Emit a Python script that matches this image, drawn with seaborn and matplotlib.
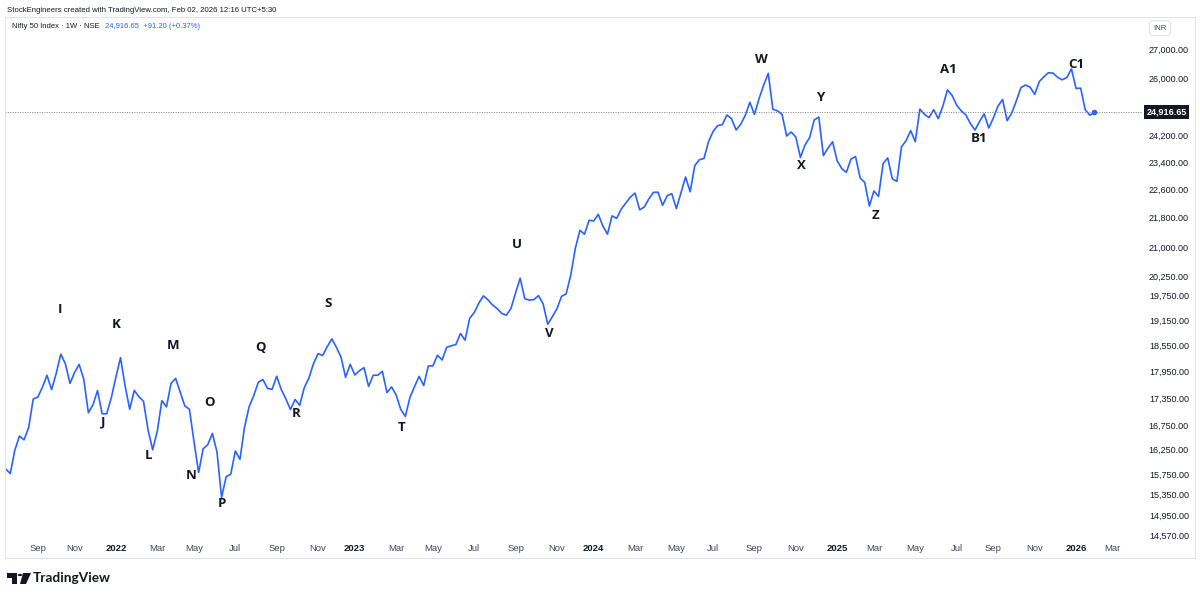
import numpy as np
import pandas as pd
import matplotlib
matplotlib.use("Agg")
import matplotlib.pyplot as plt
import matplotlib.transforms as mtransforms
from matplotlib.patches import Rectangle, Circle, Polygon
from matplotlib.ticker import NullLocator
import seaborn as sns

# weekly closes, bars dated by Monday
first_week = "2021-07-19"
closes_2021 = [15856, 15763, 16238, 16529, 16451, 16705, 17324, 17369, 17585, 17853, 17532, 17895,
               18339, 18115, 17672, 17917, 18102, 17765, 17026, 17197, 17511, 17003, 17004, 17354]
closes_2022 = [17813, 18256, 17617, 17102, 17516, 17375, 17276, 16658, 16245, 16630, 17287, 17153,
               17670, 17784, 17476, 17172, 17103, 16411, 15782, 16266, 16352, 16584, 16202, 15294,
               15699, 15752, 16221, 16049, 16719, 17158, 17398, 17698, 17758, 17559, 17539, 17833,
               17531, 17327, 17094, 17315, 17186, 17576, 17787, 18117, 18350, 18308, 18513, 18697,
               18497, 18269, 17807, 18105]
closes_2023 = [17860, 17957, 18028, 17604, 17854, 17856, 17944, 17466, 17594, 17413, 17100, 16945,
               17360, 17600, 17828, 17624, 18065, 18069, 18315, 18203, 18499, 18534, 18563, 18826,
               18666, 19189, 19332, 19565, 19745, 19646, 19517, 19428, 19310, 19266, 19435, 19820,
               20193, 19674, 19638, 19654, 19751, 19543, 19047, 19231, 19425, 19732, 19795, 20268,
               20970, 21457, 21349, 21731]
closes_2024 = [21711, 21895, 21572, 21353, 21854, 21783, 22041, 22213, 22379, 22494, 22023, 22097,
               22327, 22514, 22519, 22147, 22420, 22476, 22055, 22502, 22957, 22531, 23290, 23466,
               23501, 24011, 24324, 24502, 24531, 24835, 24718, 24368, 24541, 24823, 25236, 24852,
               25357, 25791, 26179, 25015, 24964, 24854, 24181, 24304, 24148, 23533, 23907, 24131,
               24678, 24768, 23588, 23813, 24005]
closes_2025 = [23432, 23203, 23092, 23482, 23560, 22929, 22796, 22125, 22553, 22397, 23350, 23519,
               22904, 22829, 23852, 24039, 24347, 24008, 25020, 24853, 24751, 25003, 24719, 25112,
               25637, 25461, 25150, 24968, 24837, 24565, 24363, 24631, 24870, 24427, 24741, 25114,
               25327, 24655, 24894, 25285, 25710, 25795, 25722, 25492, 25910, 26068, 26203, 26186,
               26047, 25966, 26042, 26328]
closes_2026 = [25683, 25694, 25000, 24825.45, 24916.65]

last_close = 24916.65
change_text = "+91.20 (+0.37%)"

wave_labels = ["I", "J", "K", "L", "M", "N", "O", "P", "Q", "R", "S", "T",
               "U", "V", "W", "X", "Y", "Z", "A1", "B1", "C1"]
wave_dates = ["2021-10-10", "2021-12-14", "2022-01-04", "2022-02-22", "2022-03-31", "2022-04-27",
              "2022-05-25", "2022-06-14", "2022-08-12", "2022-10-04", "2022-11-22", "2023-03-15",
              "2023-09-06", "2023-10-25", "2024-09-13", "2024-11-13", "2024-12-11", "2025-03-05",
              "2025-06-24", "2025-08-10", "2026-01-06"]
wave_prices = [19410, 16820, 19050, 16130, 18540, 15720, 17250, 15170, 18500, 17010, 19560, 16710,
               21080, 18830, 26630, 23280, 25400, 21870, 26320, 24090, 26460]

price_ticks = [27000, 26000, 24200, 23400, 22600, 21800, 21000, 20250, 19750, 19150, 18550,
               17950, 17350, 16750, 16250, 15750, 15350, 14950, 14570]

time_tick_dates = ["2021-09-06", "2021-11-01", "2022-01-03", "2022-03-07", "2022-05-02", "2022-07-04",
                   "2022-09-05", "2022-11-07", "2023-01-02", "2023-03-06", "2023-05-01", "2023-07-03",
                   "2023-09-04", "2023-11-06", "2024-01-01", "2024-03-04", "2024-05-06", "2024-07-01",
                   "2024-09-02", "2024-11-04", "2025-01-06", "2025-03-03", "2025-05-05", "2025-07-07",
                   "2025-09-01", "2025-11-03", "2026-01-05", "2026-03-02"]
time_tick_labels = ["Sep", "Nov", "2022", "Mar", "May", "Jul", "Sep", "Nov", "2023", "Mar", "May", "Jul",
                    "Sep", "Nov", "2024", "Mar", "May", "Jul", "Sep", "Nov", "2025", "Mar", "May", "Jul",
                    "Sep", "Nov", "2026", "Mar"]

closes = closes_2021 + closes_2022 + closes_2023 + closes_2024 + closes_2025 + closes_2026
df = pd.DataFrame({"week": pd.date_range(first_week, periods=len(closes), freq="W-MON"),
                   "close": closes})

sns.set_theme(style="white")
plt.rcParams["font.family"] = ["Liberation Sans", "DejaVu Sans"]

W, H = 1200, 597
fig = plt.figure(figsize=(12, 5.97), dpi=100)
fig.patch.set_facecolor("white")


def fx(x):
    return x / W


def fy(y):
    return 1 - y / H


ax = fig.add_axes([fx(5), fy(538), fx(1143) - fx(5), fy(17) - fy(538)])

line_color = "#2962ff"
sns.lineplot(data=df, x="week", y="close", ax=ax, color=line_color, linewidth=1.2)
ax.scatter(df["week"].iloc[-1], df["close"].iloc[-1], s=9, color=line_color, zorder=5)

ax.set_yscale("log")
ax.set_ylim(14526, 28119)
ax.set_xlim(pd.Timestamp("2021-07-18"), pd.Timestamp("2026-04-17"))

ax.axhline(last_close, color="#787b86", linestyle=(0, (1, 1.5)), linewidth=0.7)

for lab, d, p in zip(wave_labels, wave_dates, wave_prices):
    ax.text(pd.Timestamp(d), p, lab, ha="center", va="center", fontsize=9.5,
            fontweight="bold", color="#131722", family=["Open Sans", "DejaVu Sans"])

# price scale on the right
ax.yaxis.tick_right()
ax.yaxis.set_minor_locator(NullLocator())
ax.set_yticks(price_ticks)
ax.set_yticklabels([f"{t:,.2f}" for t in price_ticks])
ax.tick_params(axis="y", length=0, pad=33, labelsize=6.5, labelcolor="#131722")
for t in ax.get_yticklabels():
    t.set_horizontalalignment("right")

# time scale
ax.set_xticks([pd.Timestamp(d) for d in time_tick_dates])
ax.set_xticklabels(time_tick_labels)
ax.tick_params(axis="x", length=0, pad=4, labelsize=6.8, labelcolor="#434651")
for t in ax.get_xticklabels():
    if t.get_text().isdigit():
        t.set_fontweight("bold")
        t.set_color("#131722")

ax.set_xlabel("")
ax.set_ylabel("")
for s in ax.spines.values():
    s.set_visible(False)
ax.grid(False)

# current price marker on the scale
blend = mtransforms.blended_transform_factory(ax.transAxes, ax.transData)
ax.text(1.003, last_close, f"{last_close:,.2f}", transform=blend, ha="left", va="center",
        fontsize=6.5, fontweight="bold", color="white", clip_on=False,
        bbox=dict(boxstyle="square,pad=0.28", facecolor="#131722", edgecolor="none"))

# panel frame
fig.patches.append(Rectangle((fx(5), fy(558)), fx(1195) - fx(5), fy(17) - fy(558),
                             transform=fig.transFigure, fill=False, edgecolor="#e0e3eb", linewidth=0.8))

# header and legend
fig.text(fx(7), fy(10), "StockEngineers created with TradingView.com, Feb 02, 2026 12:16 UTC+5:30",
         ha="left", va="center", fontsize=5.6, color="#131722")
fig.text(fx(12), fy(27), "Nifty 50 Index \u00b7 1W \u00b7 NSE", ha="left", va="center",
         fontsize=5.5, color="#131722")
fig.text(fx(105), fy(27), f"{last_close:,.2f}  {change_text}", ha="left", va="center",
         fontsize=5.5, color=line_color)
fig.text(fx(1160), fy(28), "INR", ha="center", va="center", fontsize=5.6, color="#434651",
         bbox=dict(boxstyle="round,pad=0.5", facecolor="white", edgecolor="#e0e3eb", linewidth=0.8))

# TradingView logo
logo = [
    Rectangle((fx(7), fy(578)), fx(17) - fx(7), fy(573) - fy(578)),
    Rectangle((fx(12), fy(584)), fx(17) - fx(12), fy(573) - fy(584)),
    Polygon([(fx(23), fy(573)), (fx(31), fy(573)), (fx(26), fy(584)), (fx(20), fy(584))]),
]
for p in logo:
    p.set_transform(fig.transFigure)
    p.set_facecolor("#131722")
    p.set_edgecolor("none")
    fig.patches.append(p)
fig.patches.append(Circle((fx(20), fy(575)), 2.3 / W, transform=fig.transFigure,
                          facecolor="#131722", edgecolor="none"))
fig.text(fx(33), fy(578), "TradingView", ha="left", va="center", fontsize=9.8,
         fontweight="bold", color="#131722", family=["Lato", "DejaVu Sans"])

fig.savefig("out.png", dpi=100, facecolor="white")
